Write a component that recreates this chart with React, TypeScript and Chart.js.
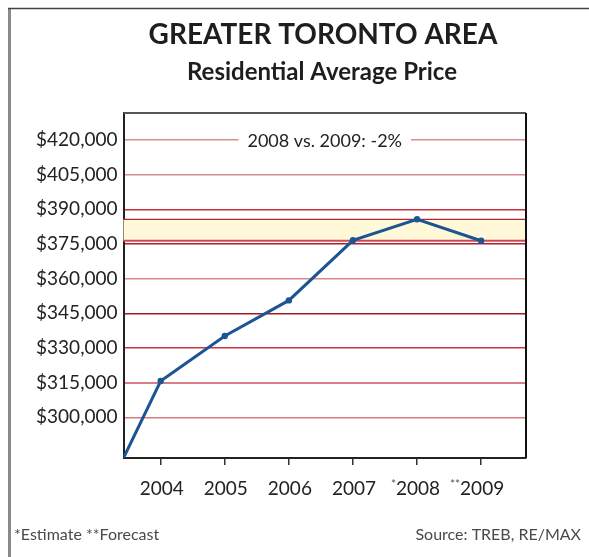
import React, { useEffect, useRef } from "react";
import { Chart, registerables } from "chart.js";

Chart.register(...registerables);

const YEARS = [2004, 2005, 2006, 2007, 2008, 2009];
const YEAR_MARKS = ["", "", "", "", "*", "**"];
const PRICES = [315700, 335200, 350600, 376600, 385700, 376400];
const Y_TICKS = [300000, 315000, 330000, 345000, 360000, 375000, 390000, 405000, 420000];
const X_MIN = 2003.42;
const X_MAX = 2009.7;
const Y_MIN = 282400;
const Y_MAX = 431700;
const TITLE = "GREATER TORONTO AREA";
const SUBTITLE = "Residential Average Price";
const ANNOTATION = "2008 vs. 2009: -2%";
const FOOTNOTE = "*Estimate **Forecast";
const SOURCE = "Source: TREB, RE/MAX";

const FONT = "Lato, 'Open Sans', sans-serif";
// grid colours, bottom ($300,000) to top ($420,000)
const GRID_COLORS = ["#d77a82", "#d87e86", "#cc3441", "#a01c22", "#d98890", "#a8202a", "#c8303c", "#da8a92", "#dc8a90"];

export default function App() {
  const ref = useRef<HTMLCanvasElement | null>(null);

  useEffect(() => {
    if (!ref.current) return;
    const decor = {
      id: "decor",
      beforeDraw(chart: any) {
        const { ctx, width, height } = chart;
        ctx.save();
        ctx.fillStyle = "#ffffff";
        ctx.fillRect(0, 0, width, height);
        ctx.strokeStyle = "#8a8a8a";
        ctx.lineWidth = 3;
        ctx.beginPath();
        ctx.moveTo(9.5, 8);
        ctx.lineTo(9.5, height);
        ctx.stroke();
        ctx.strokeStyle = "#444";
        ctx.lineWidth = 1.5;
        ctx.beginPath();
        ctx.moveTo(8, 8.5);
        ctx.lineTo(width, 8.5);
        ctx.stroke();
        ctx.restore();
      },
      beforeDatasetsDraw(chart: any) {
        const { ctx, chartArea } = chart;
        const y = chart.scales.y;
        const top = y.getPixelForValue(PRICES[4]);
        const bot = y.getPixelForValue(PRICES[5]);
        ctx.save();
        ctx.fillStyle = "#fff8d9";
        ctx.fillRect(chartArea.left, top, chartArea.right - chartArea.left, bot - top);
        ctx.strokeStyle = "#b52432";
        ctx.lineWidth = 1.2;
        ctx.beginPath();
        ctx.moveTo(chartArea.left, top);
        ctx.lineTo(chartArea.right, top);
        ctx.stroke();
        ctx.strokeStyle = "#cc4a56";
        ctx.lineWidth = 2;
        ctx.beginPath();
        ctx.moveTo(chartArea.left, bot);
        ctx.lineTo(chartArea.right, bot);
        ctx.stroke();
        ctx.restore();
      },
      afterDraw(chart: any) {
        const { ctx, chartArea } = chart;
        const xs = chart.scales.x;
        const ys = chart.scales.y;
        ctx.save();
        // plot frame top/right
        ctx.strokeStyle = "#555";
        ctx.lineWidth = 2;
        ctx.beginPath();
        ctx.moveTo(chartArea.left, chartArea.top);
        ctx.lineTo(chartArea.right, chartArea.top);
        ctx.stroke();
        ctx.strokeStyle = "#111";
        ctx.beginPath();
        ctx.moveTo(chartArea.right, chartArea.top);
        ctx.lineTo(chartArea.right, chartArea.bottom);
        ctx.stroke();

        // annotation
        const cx = (chartArea.left + chartArea.right) / 2;
        const ay = ys.getPixelForValue(420000);
        ctx.font = `18px ${FONT}`;
        const tw = ctx.measureText(ANNOTATION).width;
        ctx.fillStyle = "#ffffff";
        ctx.fillRect(cx - tw / 2 - 9, ay - 10, tw + 18, 20);
        ctx.fillStyle = "#222";
        ctx.textAlign = "center";
        ctx.textBaseline = "middle";
        ctx.fillText(ANNOTATION, cx, ay + 1);

        // titles
        ctx.fillStyle = "#1e1e1e";
        ctx.font = `bold 28px ${FONT}`;
        ctx.fillText(TITLE, 323, 35);
        ctx.font = `bold 24px ${FONT}`;
        ctx.fillText(SUBTITLE, 322, 72);

        // x labels
        YEARS.forEach((yr, i) => {
          const px = xs.getPixelForValue(yr);
          ctx.font = `19px ${FONT}`;
          ctx.fillStyle = "#222";
          ctx.textAlign = "center";
          ctx.textBaseline = "middle";
          const s = String(yr);
          ctx.fillText(s, px + 1, 489);
          const w = ctx.measureText(s).width;
          if (YEAR_MARKS[i]) {
            ctx.font = `12px ${FONT}`;
            ctx.fillStyle = "#555";
            ctx.textAlign = "right";
            ctx.fillText(YEAR_MARKS[i], px + 1 - w / 2, 484);
          }
        });

        // footer
        ctx.font = `16px ${FONT}`;
        ctx.fillStyle = "#4a4a4a";
        ctx.textAlign = "left";
        ctx.fillText(FOOTNOTE, 14, 535);
        ctx.textAlign = "right";
        ctx.fillText(SOURCE, 581, 535);
        ctx.restore();
      },
    };

    const chart = new Chart(ref.current, {
      type: "line",
      data: {
        datasets: [
          {
            data: [{ x: X_MIN, y: Y_MIN }, ...YEARS.map((yr, i) => ({ x: yr, y: PRICES[i] }))],
            borderColor: "#1d5592",
            backgroundColor: "#1d5592",
            borderWidth: 3,
            pointRadius: (c: any) => (c.dataIndex === 0 ? 0 : 3.2),
            pointBorderWidth: 0,
            tension: 0,
          },
        ],
      },
      plugins: [decor],
      options: {
        animation: false,
        responsive: false,
        devicePixelRatio: 1,
        layout: { padding: { left: 0, right: 63, top: 113, bottom: 0 } },
        plugins: { legend: { display: false }, tooltip: { enabled: false }, title: { display: false } },
        scales: {
          x: {
            type: "linear",
            min: X_MIN,
            max: X_MAX,
            afterBuildTicks: (s: any) => {
              s.ticks = YEARS.map((v) => ({ value: v }));
            },
            afterFit: (s: any) => {
              s.height = 99;
            },
            ticks: { color: "rgba(0,0,0,0)", font: { size: 19, family: FONT } },
            grid: { drawOnChartArea: false, drawTicks: true, tickLength: 7, color: "#333", lineWidth: 1.5 },
            border: { display: true, color: "#222", width: 2 },
          },
          y: {
            type: "linear",
            min: Y_MIN,
            max: Y_MAX,
            afterBuildTicks: (s: any) => {
              s.ticks = Y_TICKS.map((v) => ({ value: v }));
            },
            afterFit: (s: any) => {
              s.width = 123.5;
            },
            ticks: {
              color: "#222",
              padding: 6,
              font: { size: 19, family: FONT },
              callback: (v: any) => "$" + Number(v).toLocaleString("en-US"),
            },
            grid: {
              drawTicks: false,
              color: (c: any) => GRID_COLORS[Y_TICKS.indexOf(c.tick?.value)] || "#cc4450",
              lineWidth: (c: any) => (c.tick?.value === 315000 ? 2 : 1.5),
            },
            border: { display: true, color: "#222", width: 2 },
          },
        },
      },
    });
    return () => chart.destroy();
  }, []);

  return (
    <div style={{ position: "fixed", left: 0, top: 0, width: 589, height: 557 }}>
      <canvas ref={ref} width={589} height={557} style={{ width: 589, height: 557, display: "block" }} />
    </div>
  );
}
